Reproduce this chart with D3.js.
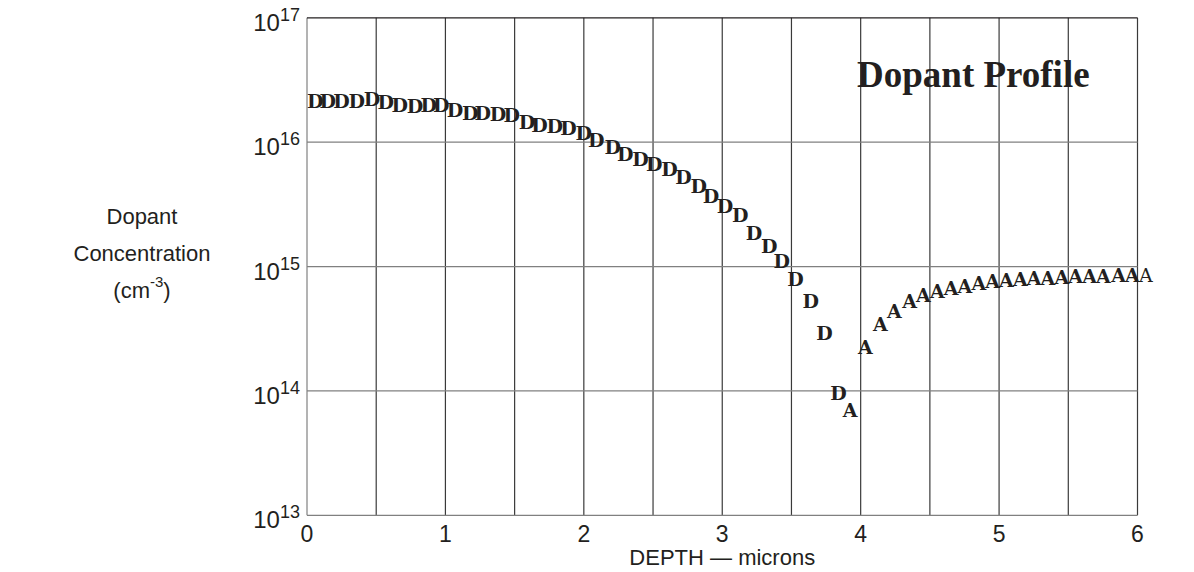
<!DOCTYPE html>
<html>
<head>
<meta charset="utf-8">
<script src="https://cdn.jsdelivr.net/npm/d3@7"></script>
<style>
  body { margin: 0; background: #fff; }
  svg text { font-family: "Liberation Sans", Arial, sans-serif; fill: #231f20; }
</style>
</head>
<body>
<div id="chart"></div>
<script>
//-------------------------------------
// data
//-------------------------------------
var xTicks = [0, 1, 2, 3, 4, 5, 6];
var yExponents = [13, 14, 15, 16, 17];

// donor points (depth in microns, concentration cm^-3)
var dDepth = [0.00, 0.09, 0.19, 0.30, 0.41, 0.51, 0.61, 0.72, 0.82, 0.91,
	1.01, 1.12, 1.21, 1.32, 1.42, 1.53, 1.62, 1.73, 1.83, 1.94,
	2.03, 2.15, 2.24, 2.35, 2.45, 2.56, 2.66, 2.77, 2.86, 2.96,
	3.07, 3.17, 3.28, 3.37, 3.47, 3.58, 3.68, 3.78];
var dConc = [2.15e16, 2.15e16, 2.15e16, 2.15e16, 2.24e16, 2.09e16, 2.0e16, 1.96e16, 2.0e16, 2.0e16,
	1.82e16, 1.73e16, 1.73e16, 1.68e16, 1.65e16, 1.44e16, 1.38e16, 1.35e16, 1.30e16, 1.18e16,
	1.04e16, 9.1e15, 7.98e15, 7.37e15, 6.63e15, 6.03e15, 5.26e15, 4.43e15, 3.68e15, 3.08e15,
	2.58e15, 1.85e15, 1.46e15, 1.11e15, 7.88e14, 5.29e14, 2.94e14, 9.7e13];

// acceptor points
var aDepth = [3.87, 3.98, 4.09, 4.19, 4.30, 4.40, 4.50, 4.60, 4.70, 4.80, 4.90,
	5.00, 5.10, 5.20, 5.30, 5.40, 5.50, 5.60, 5.70, 5.81, 5.91, 6.01];
var aConc = [7.08e13, 2.24e14, 3.44e14, 4.36e14, 5.25e14, 5.88e14, 6.31e14, 6.71e14, 7.01e14, 7.37e14, 7.59e14,
	7.79e14, 7.94e14, 8.09e14, 8.13e14, 8.28e14, 8.32e14, 8.39e14, 8.39e14, 8.49e14, 8.49e14, 8.49e14];

//-------------------------------------
// field
//-------------------------------------
var width = 1194;
var height = 572;

var svg = d3.select("#chart")
	.append("svg")
	.attr("width", width)
	.attr("height", height);

var x = d3.scaleLinear().domain([0, 6]).range([307, 1137.5]);
var y = d3.scaleLog().domain([1e13, 1e17]).range([515.3, 17.8]);

// grid
var grid = svg.append("g");
grid.selectAll("line.v")
	.data(d3.range(0, 6.01, 0.5))
	.enter()
	.append("line")
	.attr("x1", function(d) { return x(d); })
	.attr("x2", function(d) { return x(d); })
	.attr("y1", y(1e17))
	.attr("y2", y(1e13))
	.style("stroke", function(d) { return d == 0 ? "#808080" : "#3a3a3a"; })
	.style("stroke-width", 1.2);

grid.selectAll("line.h")
	.data(yExponents)
	.enter()
	.append("line")
	.attr("x1", x(0))
	.attr("x2", x(6))
	.attr("y1", function(d) { return y(Math.pow(10, d)); })
	.attr("y2", function(d) { return y(Math.pow(10, d)); })
	.style("stroke", function(d) { return d == 17 ? "#231f20" : "#808080"; })
	.style("stroke-width", 1.2);

// y tick labels
var yLab = svg.append("g")
	.selectAll("text")
	.data(yExponents)
	.enter()
	.append("text")
	.attr("x", 300)
	.attr("y", function(d) { return y(Math.pow(10, d)) + 13; })
	.attr("text-anchor", "end")
	.style("font-size", "24px");
yLab.append("tspan").text("10");
yLab.append("tspan")
	.attr("dy", -10)
	.style("font-size", "18px")
	.text(function(d) { return d; });

// x tick labels
svg.append("g")
	.selectAll("text")
	.data(xTicks)
	.enter()
	.append("text")
	.attr("x", function(d) { return x(d); })
	.attr("y", 542)
	.attr("text-anchor", "middle")
	.style("font-size", "23px")
	.text(function(d) { return d; });

// axis titles
svg.append("text")
	.attr("x", x(3))
	.attr("y", 565)
	.attr("text-anchor", "middle")
	.style("font-size", "22px")
	.text("DEPTH \u2014 microns");

var yTitle = svg.append("text")
	.attr("text-anchor", "middle")
	.style("font-size", "22px");
yTitle.append("tspan").attr("x", 142).attr("y", 224).text("Dopant");
yTitle.append("tspan").attr("x", 142).attr("y", 261).text("Concentration");
yTitle.append("tspan").attr("x", 142).attr("y", 298).text("(cm");
yTitle.append("tspan").attr("dy", -11).style("font-size", "15px").text("-3");
yTitle.append("tspan").attr("dy", 11).text(")");

// chart title
svg.append("text")
	.attr("x", 857)
	.attr("y", 87)
	.style("font-family", "'Liberation Serif', 'Times New Roman', serif")
	.style("font-weight", "bold")
	.style("font-size", "37px")
	.text("Dopant Profile");

//-------------------------------------
// letter markers
//-------------------------------------
function drawLetters(depths, concs, letter, cls) {
	svg.append("g")
		.selectAll("text")
		.data(depths)
		.enter()
		.append("text")
		.attr("class", cls)
		.attr("x", function(d) { return x(d); })
		.attr("y", function(d, i) { return y(concs[i]); })
		.attr("dominant-baseline", "central")
		.style("font-family", "'DejaVu Serif', 'Courier New', serif")
		.style("font-weight", function(d, i) { return (cls == "acc" && i == depths.length - 1) ? "normal" : "bold"; })
		.style("font-size", "19px")
		.text(letter);
}

drawLetters(dDepth, dConc, "D", "don");
drawLetters(aDepth, aConc, "A", "acc");
</script>
</body>
</html>
